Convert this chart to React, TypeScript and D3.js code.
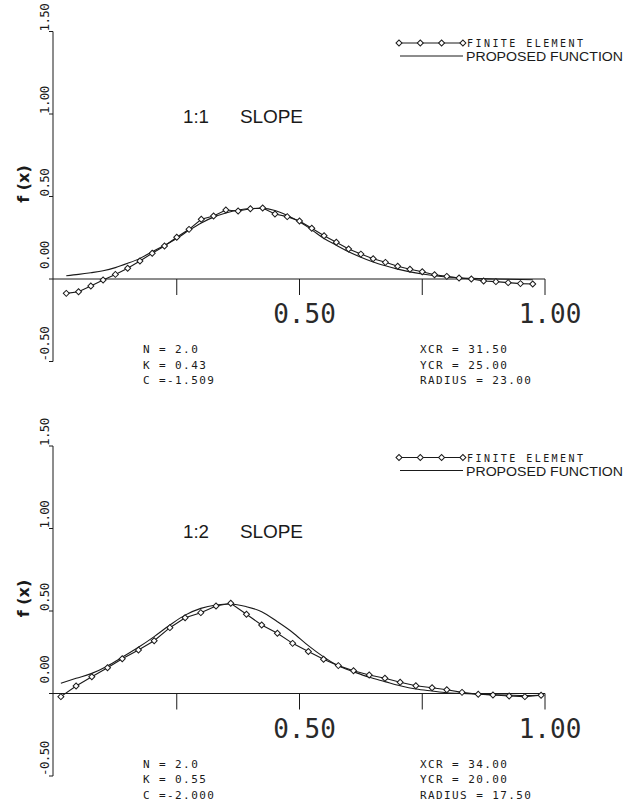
import React from "react";
import * as d3 from "d3";

// ---------- DATA ----------
const yTickValues = [-0.5, 0, 0.5, 1.0, 1.5];
const yTickLabels = ["-0.50", "0.00", "0.50", "1.00", "1.50"];
const xTickValues = [0.25, 0.5, 0.75, 1.0];
const xLabelValues = [0.5, 1.0];
const xLabelTexts = ["0.50", "1.00"];

// Panel 1 : 1:1 slope
const topX = [0.025, 0.05, 0.075, 0.1, 0.125, 0.15, 0.175, 0.2, 0.225, 0.25, 0.275, 0.3, 0.325, 0.35, 0.375, 0.4, 0.425, 0.45, 0.475, 0.5, 0.525, 0.55, 0.575, 0.6, 0.625, 0.65, 0.675, 0.7, 0.725, 0.75, 0.775, 0.8, 0.825, 0.85, 0.875, 0.9, 0.925, 0.95, 0.975];
const topFE = [-0.087, -0.077, -0.042, -0.006, 0.028, 0.065, 0.109, 0.156, 0.2, 0.253, 0.301, 0.362, 0.382, 0.418, 0.412, 0.426, 0.43, 0.394, 0.378, 0.352, 0.308, 0.262, 0.223, 0.182, 0.151, 0.123, 0.101, 0.077, 0.059, 0.044, 0.026, 0.016, 0.006, 0.0, -0.012, -0.016, -0.022, -0.028, -0.03];
const topPropX = [0.025, 0.05, 0.075, 0.1, 0.125, 0.15, 0.175, 0.2, 0.25, 0.275, 0.3, 0.325, 0.35, 0.375, 0.4, 0.425, 0.45, 0.475, 0.5, 0.525, 0.55, 0.575, 0.6, 0.625, 0.65, 0.675, 0.7, 0.725, 0.75, 0.775, 0.8, 0.85, 0.9, 0.975];
const topProp = [0.02, 0.028, 0.038, 0.05, 0.069, 0.095, 0.125, 0.165, 0.245, 0.295, 0.34, 0.375, 0.4, 0.418, 0.427, 0.428, 0.415, 0.385, 0.347, 0.298, 0.245, 0.205, 0.165, 0.132, 0.103, 0.08, 0.06, 0.043, 0.03, 0.02, 0.012, 0.004, 0.0, -0.005];
const topTitle = ["1:1", "SLOPE"];
const topLeftNotes = ["N = 2.0", "K = 0.43", "C =-1.509"];
const topRightNotes = ["XCR = 31.50", "YCR = 25.00", "RADIUS = 23.00"];

// Panel 2 : 1:2 slope
const botX = [0.014, 0.045, 0.077, 0.109, 0.139, 0.172, 0.204, 0.236, 0.267, 0.299, 0.33, 0.36, 0.392, 0.423, 0.455, 0.486, 0.518, 0.549, 0.579, 0.61, 0.642, 0.674, 0.705, 0.737, 0.77, 0.8, 0.831, 0.864, 0.894, 0.927, 0.959, 0.992];
const botFE = [-0.019, 0.045, 0.102, 0.156, 0.211, 0.264, 0.32, 0.399, 0.459, 0.49, 0.53, 0.547, 0.48, 0.415, 0.365, 0.304, 0.255, 0.208, 0.169, 0.138, 0.112, 0.092, 0.068, 0.047, 0.035, 0.023, 0.007, -0.005, -0.009, -0.015, -0.019, -0.011];
const botProp = [0.062, 0.092, 0.122, 0.167, 0.22, 0.28, 0.345, 0.415, 0.475, 0.516, 0.536, 0.542, 0.526, 0.496, 0.435, 0.37, 0.29, 0.222, 0.168, 0.132, 0.098, 0.072, 0.047, 0.027, 0.015, 0.005, 0.0, -0.004, -0.007, -0.01, -0.012, -0.011];
const botTitle = ["1:2", "SLOPE"];
const botLeftNotes = ["N = 2.0", "K = 0.55", "C =-2.000"];
const botRightNotes = ["XCR = 34.00", "YCR = 20.00", "RADIUS = 17.50"];

const legendLabels = ["FINITE ELEMENT", "PROPOSED FUNCTION"];
const yAxisTitle = "f (x)";

// ---------- RENDER ----------
const MONO = "'DejaVu Sans Mono', monospace";
const SANS = "'Liberation Sans', Arial, sans-serif";
const INK = "#1a1a1a";

const diamond = d3.symbol().type(d3.symbolSquare).size(18)() as string;

type PanelProps = {
  y0: number;
  feX: number[];
  feY: number[];
  propX: number[];
  propY: number[];
  title: string[];
  leftNotes: string[];
  rightNotes: string[];
};

function Panel({ y0, feX, feY, propX, propY, title, leftNotes, rightNotes }: PanelProps) {
  const x = d3.scaleLinear().domain([0, 1]).range([54, 545]);
  const y = d3.scaleLinear().domain([0, 1.5]).range([y0, y0 - 247.5]);

  const fePts: [number, number][] = feX.map((v, i) => [v, feY[i]]);
  const propPts: [number, number][] = propX.map((v, i) => [v, propY[i]]);

  const feLine = d3
    .line<[number, number]>()
    .x((d) => x(d[0]))
    .y((d) => y(d[1]));
  const propLine = d3
    .line<[number, number]>()
    .x((d) => x(d[0]))
    .y((d) => y(d[1]))
    .curve(d3.curveMonotoneX);

  const axisX = x(0) - 1;
  const legY1 = y0 - 236;
  const legY2 = y0 - 223;
  const legXs = d3.range(4).map((i) => 399 + i * 21.3);

  return (
    <g>
      {/* y axis */}
      <line x1={axisX} x2={axisX} y1={y(1.5)} y2={y(-0.5)} stroke={INK} strokeWidth={1} />
      {yTickValues.map((v) => (
        <line key={"yt" + v} x1={axisX - 4} x2={axisX} y1={y(v)} y2={y(v)} stroke={INK} strokeWidth={1} />
      ))}
      {yTickValues.map((v, i) => {
        const ty = y(v) - (v === 0 ? 10 : 0);
        return (
          <text
            key={"yl" + v}
            transform={`translate(49,${ty}) rotate(-90)`}
            fontFamily={MONO}
            fontSize={12.5}
            letterSpacing={-0.6}
            fill={INK}
            textAnchor="start"
          >
            {yTickLabels[i]}
          </text>
        );
      })}
      <text
        transform={`translate(29,${y0 - 95}) rotate(-90)`}
        fontFamily="'DejaVu Sans', sans-serif"
        fontWeight="bold"
        fontSize={16}
        textAnchor="middle"
        fill={INK}
      >
        {yAxisTitle}
      </text>

      {/* x axis */}
      <line x1={axisX} x2={x(1)} y1={y(0)} y2={y(0)} stroke={INK} strokeWidth={1} />
      {xTickValues.map((v) => (
        <line key={"xt" + v} x1={x(v)} x2={x(v)} y1={y(0)} y2={y(0) + 16} stroke={INK} strokeWidth={1} />
      ))}
      {xLabelValues.map((v, i) => (
        <text
          key={"xl" + v}
          x={x(v) + 5}
          y={y(0) + 44}
          fontFamily={MONO}
          fontSize={26}
          textAnchor="middle"
          fill="#2a2a2a"
        >
          {xLabelTexts[i]}
        </text>
      ))}

      {/* title */}
      <text x={183} y={y0 - 156} fontFamily={SANS} fontSize={19} textLength={26} lengthAdjust="spacingAndGlyphs" fill={INK}>
        {title[0]}
      </text>
      <text x={240} y={y0 - 156} fontFamily={SANS} fontSize={19} textLength={63} lengthAdjust="spacing" fill={INK}>
        {title[1]}
      </text>

      {/* legend */}
      <line x1={legXs[0]} x2={legXs[3]} y1={legY1} y2={legY1} stroke={INK} strokeWidth={1} />
      {legXs.map((lx, i) => (
        <path key={"lm" + i} d={diamond} transform={`translate(${lx},${legY1}) rotate(45)`} fill="white" stroke={INK} strokeWidth={1} />
      ))}
      <text x={467} y={legY1 + 4} fontFamily={MONO} fontSize={10} textLength={116} lengthAdjust="spacing" fill={INK}>
        {legendLabels[0]}
      </text>
      <line x1={400} x2={463} y1={legY2} y2={legY2} stroke={INK} strokeWidth={1} />
      <text x={466} y={legY2 + 5} fontFamily={SANS} fontSize={12} textLength={157} lengthAdjust="spacingAndGlyphs" fill={INK}>
        {legendLabels[1]}
      </text>

      {/* curves */}
      <path d={propLine(propPts) as string} fill="none" stroke={INK} strokeWidth={1.1} />
      <path d={feLine(fePts) as string} fill="none" stroke={INK} strokeWidth={1.1} />
      {fePts.map((p, i) => (
        <path
          key={"m" + i}
          d={diamond}
          transform={`translate(${x(p[0])},${y(p[1])}) rotate(45)`}
          fill="white"
          stroke={INK}
          strokeWidth={1}
        />
      ))}

      {/* notes */}
      {leftNotes.map((t, i) => (
        <text key={"ln" + i} x={143} y={y0 + 74 + i * 15.5} fontFamily={MONO} fontSize={11} letterSpacing={1.4} fill={INK}>
          {t}
        </text>
      ))}
      {rightNotes.map((t, i) => (
        <text key={"rn" + i} x={420} y={y0 + 74 + i * 15.5} fontFamily={MONO} fontSize={11} letterSpacing={1.4} fill={INK}>
          {t}
        </text>
      ))}
    </g>
  );
}

export default function App() {
  return (
    <svg
      width={628}
      height={809}
      viewBox="0 0 628 809"
      style={{ position: "absolute", left: 0, top: 0, background: "white" }}
    >
      <rect width={628} height={809} fill="white" />
      <Panel
        y0={279}
        feX={topX}
        feY={topFE}
        propX={topPropX}
        propY={topProp}
        title={topTitle}
        leftNotes={topLeftNotes}
        rightNotes={topRightNotes}
      />
      <Panel
        y0={693.5}
        feX={botX}
        feY={botFE}
        propX={botX}
        propY={botProp}
        title={botTitle}
        leftNotes={botLeftNotes}
        rightNotes={botRightNotes}
      />
    </svg>
  );
}
